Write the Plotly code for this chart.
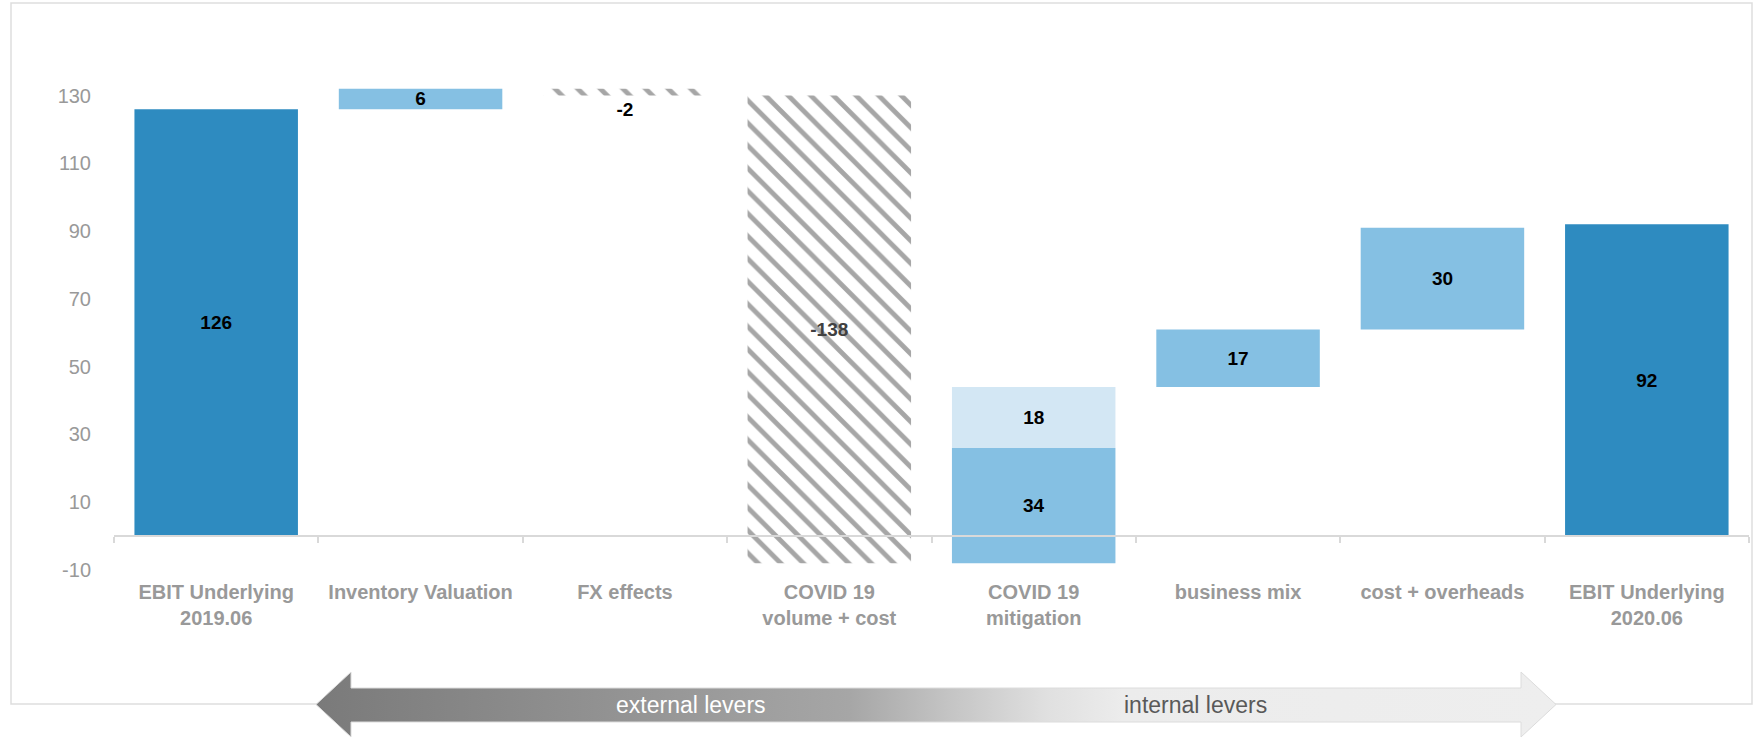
import plotly.graph_objects as go

# ---------------- data ----------------
categories = ["EBIT Underlying 2019.06", "Inventory Valuation", "FX effects",
              "COVID 19 volume + cost", "COVID 19 mitigation", "business mix",
              "cost + overheads", "EBIT Underlying 2020.06"]
tick_labels = ["EBIT Underlying<br>2019.06", "Inventory Valuation", "FX effects",
               "COVID 19<br>volume + cost", "COVID 19<br>mitigation", "business mix",
               "cost + overheads", "EBIT Underlying<br>2020.06"]
start_value = 126
end_value = 92
step_categories = ["Inventory Valuation", "FX effects", "COVID 19 volume + cost",
                   "COVID 19 mitigation", "COVID 19 mitigation", "business mix",
                   "cost + overheads"]
step_values = [6, -2, -138, 34, 18, 17, 30]
step_kind = ["up", "down", "down", "up", "up_light", "up", "up"]
y_ticks = [-10, 10, 30, 50, 70, 90, 110, 130]
lever_labels = ["external levers", "internal levers"]

# ---------------- styling ----------------
W, H = 1758, 739
FONT = "Liberation Sans, Arial, sans-serif"
DARK_BLUE = "#2E8BC0"
MID_BLUE = "#85C0E3"
LIGHT_BLUE = "#D3E7F4"
HATCH = "#A6A6A6"
AXIS_GRAY = "#D9D9D9"
TICK_GRAY = "#999999"

Y_MIN, Y_MAX = -14, 142
PLOT_L, PLOT_R = 114, 1749          # pixel extents of plot area
PLOT_T, PLOT_B = 54.9, 583.6
ydom = [1 - PLOT_B / H, 1 - PLOT_T / H]
xdom = [PLOT_L / W, PLOT_R / W]
xaxis_pos = ydom[0] + (0 - Y_MIN) / (Y_MAX - Y_MIN) * (ydom[1] - ydom[0])

# running bases for the waterfall
bases = []
running = start_value
for v in step_values:
    bases.append(running)
    running += v

groups = {"up": dict(x=[], y=[], base=[]),
          "up_light": dict(x=[], y=[], base=[]),
          "down": dict(x=[], y=[], base=[])}
for c, v, b, k in zip(step_categories, step_values, bases, step_kind):
    groups[k]["x"].append(c)
    groups[k]["y"].append(v)
    groups[k]["base"].append(b)

label_font = dict(family=FONT, size=19, color="black", weight="bold")

fig = go.Figure()

# totals
fig.add_trace(go.Bar(
    x=[categories[0], categories[-1]], y=[start_value, end_value], base=[0, 0],
    marker=dict(color=DARK_BLUE, line=dict(width=0)),
    text=[str(start_value), str(end_value)], textposition="inside",
    insidetextanchor="middle", textangle=0, textfont=label_font,
    constraintext="none", hoverinfo="skip", showlegend=False))

# positive steps
for key, col in (("up", MID_BLUE), ("up_light", LIGHT_BLUE)):
    g = groups[key]
    fig.add_trace(go.Bar(
        x=g["x"], y=g["y"], base=g["base"],
        marker=dict(color=col, line=dict(width=0)),
        text=[str(v) for v in g["y"]], textposition="inside",
        insidetextanchor="middle", textangle=0, textfont=label_font,
        constraintext="none", hoverinfo="skip", showlegend=False))

# negative (hatched) steps
g = groups["down"]
fig.add_trace(go.Bar(
    x=g["x"], y=g["y"], base=g["base"],
    marker=dict(color="white", line=dict(width=0),
                pattern=dict(shape="\\", fgcolor=HATCH, bgcolor="white",
                             size=16, solidity=0.3, fillmode="replace")),
    text=[str(v) for v in g["y"]],
    textposition=["outside" if abs(v) < 10 else "inside" for v in g["y"]],
    insidetextanchor="middle", textangle=0,
    textfont=dict(family=FONT, size=19, weight="bold",
                  color=["black" if abs(v) < 10 else "#404040" for v in g["y"]]),
    constraintext="none", cliponaxis=False, hoverinfo="skip", showlegend=False))

# ---------------- lever arrow (decoration on a pixel overlay axis) ----------------
ax_l, ax_r = 316, 1556
head_w = 35
body_t, body_b = 688, 722
head_t, head_b = 672, 737
tip_y = 704.5
arrow_x = [ax_l, ax_l + head_w, ax_l + head_w, ax_r - head_w, ax_r - head_w, ax_r,
           ax_r - head_w, ax_r - head_w, ax_l + head_w, ax_l + head_w, ax_l]
arrow_y = [tip_y, head_t, body_t, body_t, head_t, tip_y,
           head_b, body_b, body_b, head_b, tip_y]
fig.add_trace(go.Scatter(
    x=arrow_x, y=arrow_y, xaxis="x2", yaxis="y2", mode="lines",
    line=dict(color="#DCDCDC", width=1), fill="toself",
    fillgradient=dict(type="horizontal", colorscale=[
        [0.0, "#7A7A7A"], [0.43, "#A6A6A6"], [0.51, "#C4C4C4"],
        [0.59, "#E0E0E0"], [0.65, "#ECECEC"], [1.0, "#EEEEEE"]]),
    hoverinfo="skip", showlegend=False))

fig.add_annotation(x=691, y=705, xref="x2", yref="y2", text=lever_labels[0],
                   showarrow=False, font=dict(family=FONT, size=23, color="white"))
fig.add_annotation(x=1195, y=705, xref="x2", yref="y2", text=lever_labels[1],
                   showarrow=False, font=dict(family=FONT, size=23, color="#595959"))

# outer frame
fig.add_shape(type="rect", xref="paper", yref="paper",
              x0=11 / W, x1=1752 / W, y0=1 - 704 / H, y1=1 - 3 / H,
              line=dict(color="#DEDEDE", width=1.5), fillcolor="rgba(0,0,0,0)",
              layer="below")

fig.update_layout(
    width=W, height=H, autosize=False,
    margin=dict(l=0, r=0, t=0, b=0, pad=0),
    paper_bgcolor="white", plot_bgcolor="rgba(0,0,0,0)",
    barmode="overlay", bargap=0.2,
    font=dict(family=FONT),
    xaxis=dict(domain=xdom, anchor="free", position=xaxis_pos, type="category",
               categoryorder="array", categoryarray=categories,
               range=[-0.5, len(categories) - 0.5],
               tickvals=categories, ticktext=tick_labels,
               tickfont=dict(family=FONT, size=20, color=TICK_GRAY, weight="bold"),
               showline=True, linecolor=AXIS_GRAY, linewidth=1.5,
               ticks="outside", tickson="boundaries", ticklen=6, tickcolor=AXIS_GRAY,
               tickwidth=1.5, ticklabelstandoff=38,
               showgrid=False, zeroline=False, automargin=False, layer="above traces"),
    yaxis=dict(domain=ydom, anchor="x", range=[Y_MIN, Y_MAX], tickvals=y_ticks,
               ticktext=[str(v) for v in y_ticks],
               tickfont=dict(family=FONT, size=20, color=TICK_GRAY),
               showline=False, showgrid=False, zeroline=False, ticks="",
               ticklabelstandoff=22, automargin=False),
    xaxis2=dict(domain=[0, 1], anchor="y2", range=[0, W], visible=False,
                showgrid=False, zeroline=False),
    yaxis2=dict(domain=[0, 1], anchor="x2", range=[H, 0], visible=False,
                showgrid=False, zeroline=False),
)

fig.write_html("out.html")
